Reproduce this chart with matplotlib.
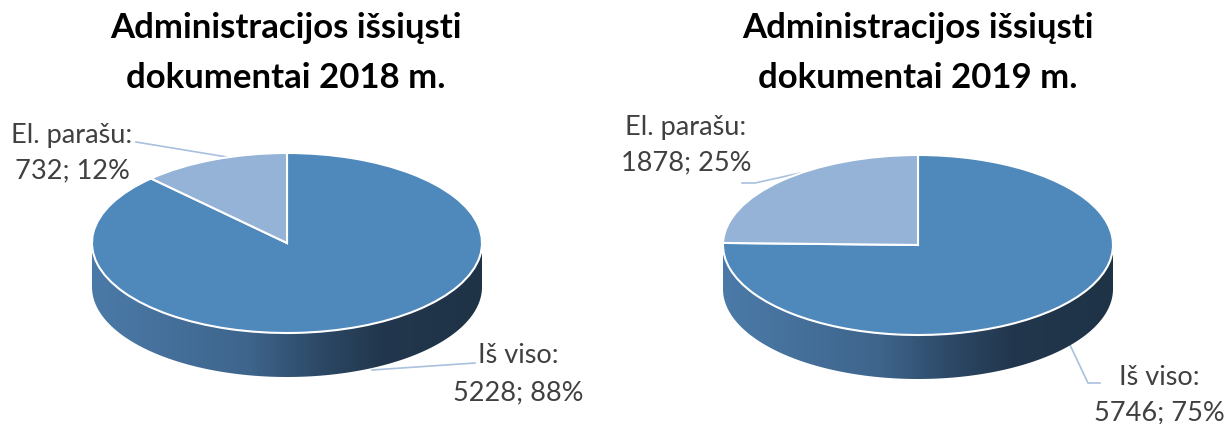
import numpy as np
import matplotlib
matplotlib.use('Agg')
import matplotlib.pyplot as plt
from matplotlib.patches import Polygon
from matplotlib.colors import LinearSegmentedColormap

# ---- data ----
years = ['2018', '2019']
categories = ['Iš viso', 'El. parašu']
values_2018 = [5228, 732]
values_2019 = [5746, 1878]
title_template = 'Administracijos išsiųsti\ndokumentai {} m.'
slice_colors = ['#4F88BB', '#95B3D7']

# ---- layout ----
W, H = 1224, 424
fig = plt.figure(figsize=(W / 100, H / 100), dpi=100)
base = fig.add_axes([0, 0, 1, 1])
base.set_xlim(0, W)
base.set_ylim(H, 0)
base.axis('off')

FONT = ['Lato', 'DejaVu Sans']
TXT = '#404040'
LEADER = '#A9C0DE'
RX, RY, DEPTH = 195, 90, 44
centers = [(287, 243), (918, 245)]
title_x = [286, 918]

side_cmap = LinearSegmentedColormap.from_list(
    'side', [(0, '#4B7AA8'), (0.4, '#3E658C'), (0.58, '#2D4967'),
             (0.74, '#22374D'), (1, '#1F3347')])


def draw_pie(cx, cy, vals):
    ax = fig.add_axes([0, 0, 1, 1])
    ax.axis('off')
    ax.patch.set_alpha(0)
    D = DEPTH / RY
    t = np.linspace(np.pi, 2 * np.pi, 300)
    xs = np.concatenate([np.cos(t), np.cos(t[::-1])])
    ys = np.concatenate([np.sin(t), np.sin(t[::-1]) - D])
    poly = Polygon(np.column_stack([xs, ys]), closed=True, facecolor='none',
                   edgecolor='none', transform=ax.transData)
    ax.add_patch(poly)
    grad = np.linspace(0, 1, 256).reshape(1, -1)
    im = ax.imshow(grad, cmap=side_cmap, extent=[-1, 1, -1 - D, 0],
                   aspect='auto', zorder=1, interpolation='bilinear')
    im.set_clip_path(poly)
    ax.pie(vals, colors=slice_colors, startangle=90, counterclock=False,
           radius=1, center=(0, 0),
           wedgeprops=dict(edgecolor='white', linewidth=1.5, zorder=2))
    ax.set_aspect('auto')
    ax.set_xlim(-cx / RX, (W - cx) / RX)
    ax.set_ylim(-(H - cy) / RY, cy / RY)
    return ax


for i, (yr, vals) in enumerate(zip(years, [values_2018, values_2019])):
    cx, cy = centers[i]
    draw_pie(cx, cy, vals)
    l1, l2 = title_template.format(yr).split('\n')
    base.text(title_x[i], 38, l1, ha='center', va='baseline', fontsize=25,
              fontweight='bold', family=FONT, color='black')
    base.text(title_x[i], 88, l2, ha='center', va='baseline', fontsize=25,
              fontweight='bold', family=FONT, color='black')

# labels
label_pos = {
    # (category, chart): (x_center, baseline1, baseline2)
    (1, 0): (72, 143, 178),
    (0, 0): (518, 363, 400),
    (1, 1): (686, 135, 170),
    (0, 1): (1159, 385, 420),
}
for i, vals in enumerate([values_2018, values_2019]):
    total = sum(vals)
    for j, cat in enumerate(categories):
        x, b1, b2 = label_pos[(j, i)]
        pct = round(100 * vals[j] / total)
        base.text(x, b1, f'{cat}:', ha='center', va='baseline', fontsize=19.5,
                  family=FONT, color=TXT)
        base.text(x, b2, f'{vals[j]}; {pct}%', ha='center', va='baseline',
                  fontsize=19.5, family=FONT, color=TXT)

# leader lines
leaders = [
    [(136, 142), (227, 157)],
    [(372, 370), (475, 363)],
    [(742, 183), (755, 183), (800, 173)],
    [(1070, 345), (1088, 383), (1100, 383)],
]
for pts in leaders:
    xs, ys = zip(*pts)
    base.plot(xs, ys, color=LEADER, lw=1.2, zorder=5)

fig.savefig('out.png', dpi=100)
